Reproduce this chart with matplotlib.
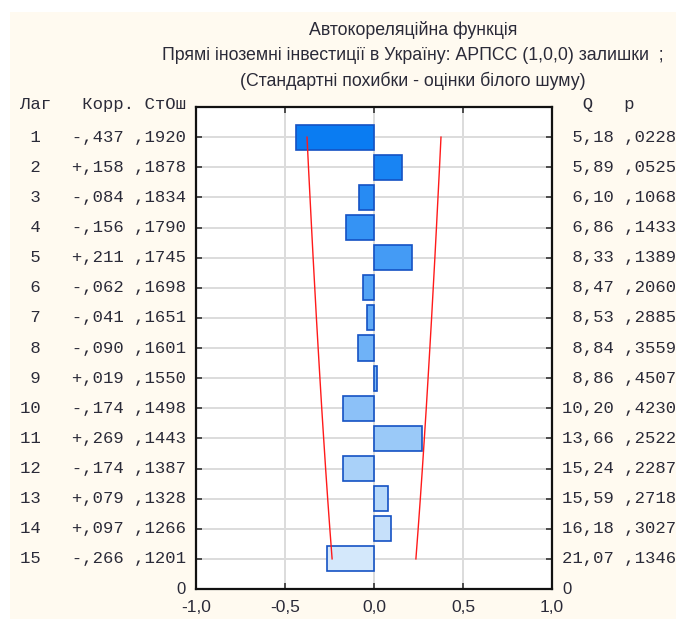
import matplotlib.pyplot as plt
import matplotlib.transforms as mtransforms
from matplotlib.colors import LinearSegmentedColormap
from matplotlib.patches import Rectangle

# autocorrelation table of the model residuals
lags = list(range(1, 16))
corr = [-0.437, 0.158, -0.084, -0.156, 0.211, -0.062, -0.041, -0.090,
        0.019, -0.174, 0.269, -0.174, 0.079, 0.097, -0.266]
std_err = [0.1920, 0.1878, 0.1834, 0.1790, 0.1745, 0.1698, 0.1651, 0.1601,
           0.1550, 0.1498, 0.1443, 0.1387, 0.1328, 0.1266, 0.1201]
q_stat = [5.18, 5.89, 6.10, 6.86, 8.33, 8.47, 8.53, 8.84, 8.86, 10.20,
          13.66, 15.24, 15.59, 16.18, 21.07]
p_val = [0.0228, 0.0525, 0.1068, 0.1433, 0.1389, 0.2060, 0.2885, 0.3559,
         0.4507, 0.4230, 0.2522, 0.2287, 0.2718, 0.3027, 0.1346]
x_ticks = [-1.0, -0.5, 0.0, 0.5, 1.0]

title_lines = ['Автокореляційна функція',
               'Прямі іноземні інвестиції в Україну: АРПСС (1,0,0) залишки  ;',
               '(Стандартні похибки - оцінки білого шуму)']

W, H = 676, 619
BG = '#fffaf0'
MONO = 'Liberation Mono'
SANS = 'Liberation Sans'
TXT = '#2a2a38'


def fx(px):
    return px / W


def fy(py):
    return 1 - py / H


def num(v, digits):
    # statistica style: ",437" instead of "0.437"
    s = f'{abs(v):.{digits}f}'.replace('.', ',')
    if s.startswith('0,'):
        s = s[1:]
    return s


fig = plt.figure(figsize=(W / 100, H / 100), dpi=100, facecolor='white')
fig.patches.append(Rectangle((fx(10), 0), 1, fy(12), transform=fig.transFigure,
                             facecolor=BG, edgecolor='none', zorder=-10))

ax = fig.add_axes([fx(196), fy(589), fx(552 - 196), (589 - 107) / H])
ax.set_facecolor('white')

# lag 1 at the top, lag 15 at the bottom
ypos = [16 - k for k in lags]

cmap = LinearSegmentedColormap.from_list('acf', ['#0a7cf2', '#d4e8fb'])
colors = [cmap((k - 1) / 14) for k in lags]
ax.barh(ypos, corr, height=0.83, left=0, color=colors, edgecolor='#1452c4',
        linewidth=1.2, zorder=3)

# white-noise confidence limits
upper = [1.96 * s for s in std_err]
lower = [-1.96 * s for s in std_err]
ax.plot(upper, ypos, color='#ff1a1a', lw=1.0, zorder=4)
ax.plot(lower, ypos, color='#ff1a1a', lw=1.0, zorder=4)

ax.set_xlim(-1, 1)
ax.set_ylim(0, 16)
ax.set_xticks(x_ticks)
ax.set_xticklabels([f'{t:.1f}'.replace('.', ',') for t in x_ticks],
                   fontfamily=SANS, fontsize=12.5, color=TXT)
ax.set_yticks(ypos)
ax.set_yticklabels([])
for v in [-0.5, 0.0, 0.5]:
    ax.axvline(v, color='#dcdcdc', lw=1.4, zorder=1)
for y in ypos:
    ax.axhline(y, color='#dcdcdc', lw=1.4, zorder=1)
ax.tick_params(direction='in', length=4, width=1.2, color='#333333',
               top=True, right=True, pad=8)
for sp in ax.spines.values():
    sp.set_linewidth(1.6)
    sp.set_color('#111111')

# title
for line, py in zip(title_lines, [30, 56, 81]):
    fig.text(fx(413), fy(py), line, ha='center', va='center',
             fontfamily=SANS, fontsize=12.8, color=TXT)

# left and right tables, rows follow the bar positions
row_tr = mtransforms.blended_transform_factory(fig.transFigure, ax.transData)
fig.text(fx(20), fy(105), 'Лаг   Корр. СтОш', ha='left', va='center',
         fontfamily=MONO, fontsize=12.4, color=TXT)
fig.text(fx(561.5), fy(105), '  Q   p', ha='left', va='center',
         fontfamily=MONO, fontsize=12.4, color=TXT)
for k, y, c, s, q, p in zip(lags, ypos, corr, std_err, q_stat, p_val):
    sign = '-' if c < 0 else '+'
    left_row = f'{k:>2}   {sign}{num(c, 3)} {num(s, 4)}'
    right_row = f'{num(q, 2):>5} {num(p, 4)}'
    fig.text(fx(20), y, left_row, transform=row_tr, ha='left', va='center',
             fontfamily=MONO, fontsize=12.4, color=TXT)
    fig.text(fx(561.5), y, right_row, transform=row_tr, ha='left', va='center',
             fontfamily=MONO, fontsize=12.4, color=TXT)
fig.text(fx(186), 0, '0', transform=row_tr, ha='right', va='center',
         fontfamily=SANS, fontsize=12, color=TXT)
fig.text(fx(562), 0, '0', transform=row_tr, ha='left', va='center',
         fontfamily=SANS, fontsize=12, color=TXT)

fig.savefig('out.png', dpi=100, facecolor=fig.get_facecolor())
